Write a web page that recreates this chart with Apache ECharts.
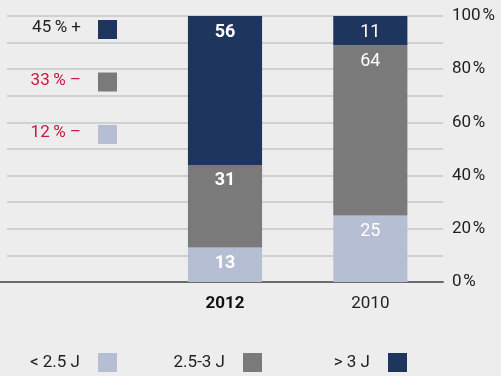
<!DOCTYPE html>
<html>
<head>
<meta charset="utf-8">
<script src="https://cdn.jsdelivr.net/npm/echarts@6/dist/echarts.min.js"></script>
<style>
  html, body { margin: 0; padding: 0; background: #ededed; }
  #chart { width: 501px; height: 376px; }
</style>
</head>
<body>
<div id="chart"></div>
<script>
// Years shown as stacked columns; the leading blank slot holds the share notes
const years = ['', '2012', '2010'];
const boldYear = '2012';

// Share of each energy class per year (percent)
const seriesNames = ['< 2.5 J', '2.5-3 J', '> 3 J'];
const lowEnergy = [null, 13, 25];
const midEnergy = [null, 31, 64];
const highEnergy = [null, 56, 11];

// Change notes, top to bottom
const noteTexts = ['45\u2009% +', '33\u2009% \u2013', '12\u2009% \u2013'];
const noteIsDrop = [false, true, true];

const colors = ['#b5bed2', '#7a7a7a', '#1e355e'];
const noteColors = [colors[2], colors[1], colors[0]];
const FONT = 'Roboto, "Liberation Sans", sans-serif';

const chart = echarts.init(document.getElementById('chart'));

function makeSeries(name, values, color) {
  return {
    name: name,
    type: 'bar',
    stack: 'share',
    barWidth: '51%',
    itemStyle: { color: color },
    label: {
      show: true,
      position: 'insideTop',
      distance: 7,
      color: '#ffffff',
      fontFamily: FONT,
      fontSize: 18,
      formatter: p => (p.value == null ? '' : String(p.value))
    },
    data: values.map((v, i) => ({
      value: v,
      label: { fontWeight: years[i] === boldYear ? 'bold' : 'normal' }
    }))
  };
}

const legendRight = [384, 239, 94];

const noteGraphics = [];
noteTexts.forEach((t, i) => {
  const yc = 29.5 + i * 52.5;
  noteGraphics.push({
    type: 'text',
    right: 501 - 81,
    top: yc - 10,
    style: {
      text: t,
      fill: noteIsDrop[i] ? '#cc1540' : '#222222',
      font: '17px ' + FONT,
      textVerticalAlign: 'top'
    }
  });
  noteGraphics.push({
    type: 'rect',
    left: 98,
    top: yc - 9.5,
    shape: { width: 19, height: 19 },
    style: { fill: noteColors[i] }
  });
});

// axis line continues left to the page edge
noteGraphics.push({
  type: 'rect',
  left: 0,
  top: 281,
  shape: { width: 8, height: 2 },
  style: { fill: '#6b6b6b' }
});

chart.setOption({
  backgroundColor: '#ededed',
  animation: false,
  color: colors,
  grid: { left: 7, right: 58, top: 16, bottom: 94 },
  legend: seriesNames.map((n, i) => ({
    data: [n],
    right: legendRight[i],
    top: 353,
    align: 'right',
    icon: 'rect',
    itemWidth: 19,
    itemHeight: 19,
    padding: 0,
    selectedMode: false,
    textStyle: {
      color: '#222222',
      fontFamily: FONT,
      fontSize: 17,
      padding: [0, 13, 0, 0]
    }
  })),
  xAxis: {
    type: 'category',
    data: years,
    axisLine: { show: true, lineStyle: { color: '#6b6b6b', width: 2 } },
    axisTick: { show: false },
    axisLabel: {
      margin: 13,
      color: '#222222',
      fontFamily: FONT,
      fontSize: 17,
      formatter: v => (v === boldYear ? '{b|' + v + '}' : v),
      rich: { b: { fontWeight: 'bold', fontSize: 17, color: '#111111', fontFamily: FONT } }
    }
  },
  yAxis: {
    type: 'value',
    position: 'right',
    min: 0,
    max: 100,
    interval: 10,
    axisLine: { show: false },
    axisTick: { show: false },
    splitLine: { lineStyle: { color: '#c6c6c6', width: 1.5 } },
    axisLabel: {
      margin: 9,
      color: '#222222',
      fontFamily: FONT,
      fontSize: 17,
      formatter: v => (v % 20 === 0 ? v + '\u200a%' : '')
    }
  },
  graphic: noteGraphics,
  series: [
    makeSeries(seriesNames[0], lowEnergy, colors[0]),
    makeSeries(seriesNames[1], midEnergy, colors[1]),
    makeSeries(seriesNames[2], highEnergy, colors[2])
  ]
});
</script>
</body>
</html>
